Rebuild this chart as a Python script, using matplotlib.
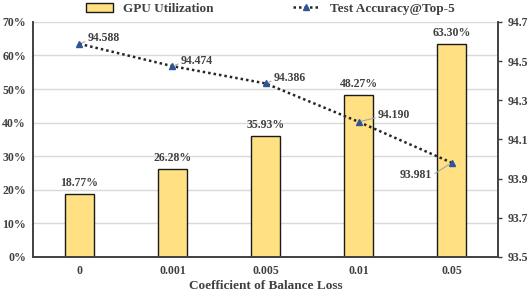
import matplotlib.pyplot as plt
import numpy as np
from matplotlib.ticker import FuncFormatter

plt.rcParams["font.family"] = "Liberation Serif"
plt.rcParams["font.weight"] = "bold"

coeffs = ["0", "0.001", "0.005", "0.01", "0.05"]
gpu_util = [18.77, 26.28, 35.93, 48.27, 63.30]
accuracy = [94.588, 94.474, 94.386, 94.190, 93.981]

txt = "#404040"
x = np.arange(len(coeffs))

fig = plt.figure(figsize=(5.3, 2.92), dpi=100)
ax = fig.add_axes([0.062, 0.12, 0.878, 0.805])
ax2 = ax.twinx()

bars = ax.bar(x, gpu_util, width=0.31, color="#FFE083", edgecolor="#1a1a1a",
              linewidth=1.0, label="GPU Utilization", zorder=2)
for xi, v in zip(x, gpu_util):
    ax.text(xi, v + 1.5, f"{v:.2f}%", ha="center", va="bottom", fontsize=8.5,
            color=txt, fontweight="bold")

ax.set_ylim(0, 70)
ax.set_yticks(range(0, 71, 10))
ax.yaxis.set_major_formatter(FuncFormatter(lambda v, p: f"{v:.0f}%"))
ax.set_xlim(-0.5, len(coeffs) - 0.5)
ax.set_xticks(x)
ax.set_xticklabels(coeffs)
ax.grid(axis="y", color="#d9d9d9", linewidth=1.0, zorder=0)
ax.set_axisbelow(True)
ax.tick_params(axis="both", length=0, labelsize=8.5, labelcolor=txt, pad=5)
ax.tick_params(axis="x", pad=6)
ax.set_xlabel("Coefficient of Balance Loss", fontsize=9.5, color=txt,
              fontweight="bold", labelpad=2)

line, = ax2.plot(x, accuracy, linestyle=(0, (1, 1.2)), color="#262626", lw=1.8,
                 marker="^", markersize=5, markerfacecolor="#2F5597",
                 markeredgecolor="#2F5597", label="Test Accuracy@Top-5", zorder=3)
ax2.set_ylim(93.5, 94.7)
ax2.set_yticks(np.arange(93.5, 94.71, 0.2))
ax2.yaxis.set_major_formatter(FuncFormatter(lambda v, p: f"{v:.1f}"))
ax2.tick_params(axis="y", direction="out", length=3, width=1, color="#404040",
                labelsize=8.5, labelcolor=txt, pad=4)

offsets = [(6, 4), (6, 4), (6, 4), (14, 5), (-14, -9)]
for xi, v, off in zip(x, accuracy, offsets):
    ha = "left" if off[0] > 0 else "right"
    rel = (0, 0.3) if off[0] > 0 else (1, 0.5)
    ax2.annotate(f"{v:.3f}", xy=(xi, v), xytext=off, textcoords="offset points",
                 ha=ha, va="center", fontsize=8.5, color=txt, fontweight="bold",
                 arrowprops=dict(arrowstyle="-", color="#a6a6a6", lw=0.8,
                                 shrinkA=0, shrinkB=2, relpos=rel))

for a in (ax, ax2):
    a.spines["top"].set_visible(False)
    for s in ("left", "right", "bottom"):
        a.spines[s].set_color("#404040")
        a.spines[s].set_linewidth(1.2)

fig.legend([bars, line], ["GPU Utilization", "Test Accuracy@Top-5"],
           loc="upper center", bbox_to_anchor=(0.51, 0.995), ncol=2, frameon=False,
           fontsize=9.5, labelcolor=txt, handlelength=2.0, handleheight=0.7,
           columnspacing=6, borderaxespad=0, borderpad=0.1)

fig.savefig("out.png", dpi=100)
